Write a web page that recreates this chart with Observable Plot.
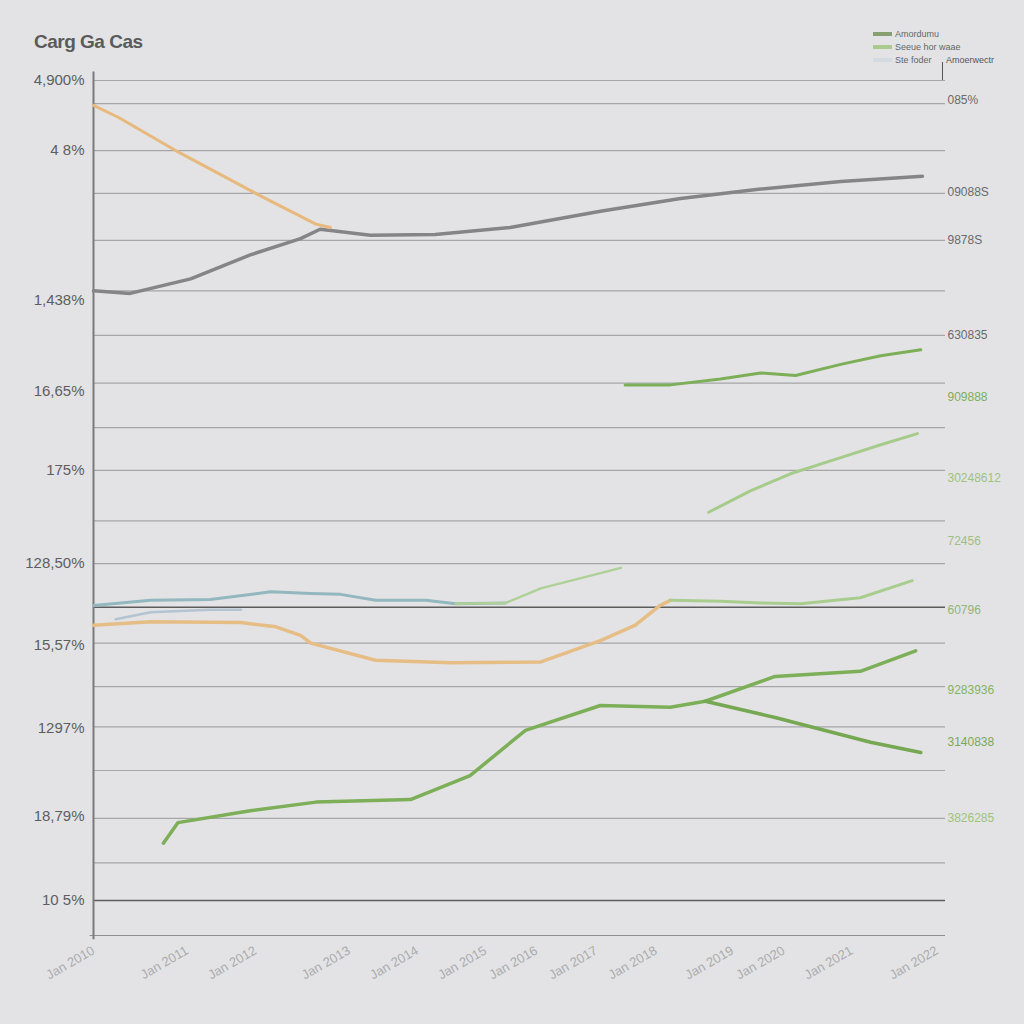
<!DOCTYPE html>
<html>
<head>
<meta charset="utf-8">
<script src="https://cdn.jsdelivr.net/npm/d3@7"></script>
<script src="https://cdn.jsdelivr.net/npm/@observablehq/plot@0.6"></script>
<style>
  html, body { margin: 0; padding: 0; background: #e3e3e5; }
  #wrap { width: 1024px; height: 1024px; overflow: hidden; background: #e3e3e5; font-family: "Liberation Sans", Arial, sans-serif; position: relative; }
  #header { position: relative; height: 70px; }
  #title { position: absolute; left: 34px; top: 31px; font-size: 19px; font-weight: bold; color: #5a5a5a; letter-spacing: -0.5px; }
  #legend { position: absolute; left: 873px; top: 27px; font-size: 9px; color: #666; }
  .li { display: flex; align-items: center; height: 13px; }
  .sw { width: 19px; height: 4px; margin-right: 3px; }
  #legend2 { position: absolute; left: 946px; top: 55px; font-size: 9px; color: #555; }
  #tick { position: absolute; left: 942px; top: 62px; width: 1px; height: 18px; background: #555; }
  svg { display: block; }
</style>
</head>
<body>
<div id="wrap">
  <div id="header">
    <div id="title">Carg Ga Cas</div>
    <div id="legend"></div>
    <div id="legend2">Amoerwectr</div>
    <div id="tick"></div>
  </div>
  <div id="chart"></div>
</div>
<script>
// ---- data ----
const greyX = [0, 4.3, 11.4, 18.4, 24.3, 26.6, 32.5, 40.1, 48.9, 59.5, 68.9, 78.3, 87.7, 97.3];
const greyY = [75.4, 75.1, 76.8, 79.6, 81.5, 82.6, 81.9, 82.0, 82.8, 84.7, 86.2, 87.3, 88.2, 88.8];

const orangeTopX = [0, 2.9, 10.2, 19.6, 26.1, 27.8];
const orangeTopY = [97.1, 95.7, 91.5, 86.5, 83.2, 82.8];

const tealX = [0, 6.7, 13.7, 20.8, 25.5, 29.0, 33.1, 39.0, 42.5, 48.4];
const tealY = [38.6, 39.2, 39.3, 40.2, 40.0, 39.9, 39.2, 39.2, 38.8, 38.9];

const tealFaintX = [2.6, 6.7, 13.7, 17.3];
const tealFaintY = [37.0, 37.8, 38.1, 38.1];

const lgMidX = [42.5, 48.4, 52.5, 61.9];
const lgMidY = [38.8, 38.9, 40.6, 43.0];

const orangeLowX = [0, 6.7, 17.3, 21.4, 24.3, 25.5, 33.1, 41.9, 52.5, 59.5, 63.6, 66.5, 67.7];
const orangeLowY = [36.3, 36.7, 36.6, 36.1, 35.1, 34.2, 32.2, 31.9, 32.0, 34.5, 36.3, 38.6, 39.2];

const lgRightX = [67.7, 73.6, 78.3, 83.0, 90.0, 96.1];
const lgRightY = [39.2, 39.1, 38.9, 38.8, 39.5, 41.5];

const greenUpX = [62.4, 67.7, 73.6, 78.3, 82.4, 87.7, 92.4, 97.1];
const greenUpY = [64.4, 64.4, 65.1, 65.8, 65.5, 66.8, 67.8, 68.5];

const lgUpX = [72.2, 77.1, 81.8, 87.7, 92.4, 96.7];
const lgUpY = [49.5, 52.0, 54.0, 55.9, 57.4, 58.7];

const greenLowX = [8.2, 9.9, 18.4, 26.1, 37.2, 44.2, 50.7, 59.5, 67.7, 71.8, 80.0, 90.0, 96.5];
const greenLowY = [10.8, 13.2, 14.6, 15.6, 15.9, 18.7, 24.0, 26.9, 26.7, 27.4, 30.3, 30.9, 33.3];

const greenBranchX = [71.8, 80.0, 91.2, 97.1];
const greenBranchY = [27.4, 25.5, 22.6, 21.4];

const gridValues = [100, 97.3, 91.8, 86.8, 81.3, 75.4, 70.2, 64.6, 59.4, 54.4, 48.5, 43.5, 34.2, 29.1, 24.4, 19.3, 13.7, 8.5];
const darkRuleValues = [38.4, 4.1];

const leftTickValues = [100, 91.8, 74.3, 63.7, 54.4, 43.5, 34.0, 24.3, 14.0, 4.1];
const leftTickLabels = ["4,900%", "4 8%", "1,438%", "16,65%", "175%", "128,50%", "15,57%", "1297%", "18,79%", "10 5%"];

const rightTickValues = [97.7, 86.9, 81.3, 70.2, 63.0, 53.5, 46.1, 38.0, 28.7, 22.6, 13.7];
const rightTickLabels = ["085%", "09088S", "9878S", "630835", "909888", "30248612", "72456", "60796", "9283936", "3140838", "3826285"];
const rightTickColors = ["#6a6a6a", "#6a6a6a", "#6a6a6a", "#6a6a6a", "#7fae58", "#9cc47c", "#9fbf86", "#8fb57a", "#86b45f", "#7aa855", "#9cc47c"];

const xTickValues = [0, 11, 19, 30, 38, 46, 52, 59, 66, 75, 81, 89, 99];
const xTickLabels = ["Jan 2010", "Jan 2011", "Jan 2012", "Jan 2013", "Jan 2014", "Jan 2015", "Jan 2016", "Jan 2017", "Jan 2018", "Jan 2019", "Jan 2020", "Jan 2021", "Jan 2022"];

const legendNames = ["Amordumu", "Seeue hor waae", "Ste foder"];
const legendColors = ["#86a072", "#a9cb8e", "#d3dae2"];

// ---- legend ----
const leg = document.getElementById("legend");
legendNames.forEach((n, i) => {
  const d = document.createElement("div");
  d.className = "li";
  d.innerHTML = `<span class="sw" style="background:${legendColors[i]}"></span><span>${n}</span>`;
  leg.appendChild(d);
});

// ---- build tables ----
const mk = (xs, ys) => xs.map((x, i) => ({x, y: ys[i]}));
const rightLabels = rightTickValues.map((v, i) => ({y: v, label: rightTickLabels[i], color: rightTickColors[i]}));

const lineOpts = (stroke, w) => ({x: "x", y: "y", stroke, strokeWidth: w, curve: "linear", strokeLinejoin: "round", strokeLinecap: "round"});

const chart = Plot.plot({
  width: 1024,
  height: 954,
  marginTop: 10,
  marginBottom: 89,
  marginLeft: 93,
  marginRight: 79,
  style: {background: "transparent", fontFamily: "Liberation Sans, Arial, sans-serif"},
  x: {domain: [0, 100], axis: null},
  y: {domain: [0, 100], axis: null},
  marks: [
    Plot.ruleY(gridValues, {stroke: "#a6a6a8", strokeWidth: 1.2}),
    Plot.ruleY(darkRuleValues, {stroke: "#5c5c5c", strokeWidth: 1.6}),
    Plot.ruleY([0], {x1: -0.4, x2: 100, stroke: "#8e8e90", strokeWidth: 1.2}),
    Plot.ruleX([0], {y1: -0.5, y2: 101, stroke: "#7a7a7a", strokeWidth: 2}),
    Plot.axisY({ticks: leftTickValues, tickFormat: (d, i) => leftTickLabels[i], tickSize: 0, tickPadding: 9, fontSize: 15, color: "#5e5e5e", anchor: "left", label: null}),
    Plot.axisX({ticks: xTickValues, tickFormat: (d, i) => xTickLabels[i], tickSize: 0, tickPadding: 14, fontSize: 13, color: "#ababad", tickRotate: -30, anchor: "bottom", label: null}),
    Plot.text(rightLabels, {y: "y", text: "label", fill: "color", frameAnchor: "right", textAnchor: "start", dx: 2, fontSize: 12}),
    Plot.line(mk(tealFaintX, tealFaintY), lineOpts("#b4c3d2", 2.5)),
    Plot.line(mk(tealX, tealY), lineOpts("#93b7bf", 3)),
    Plot.line(mk(lgMidX, lgMidY), lineOpts("#afd096", 2.5)),
    Plot.line(mk(orangeLowX, orangeLowY), lineOpts("#e6bd84", 3.5)),
    Plot.line(mk(lgRightX, lgRightY), lineOpts("#a9cd8e", 3)),
    Plot.line(mk(greyX, greyY), lineOpts("#858587", 3.5)),
    Plot.line(mk(orangeTopX, orangeTopY), lineOpts("#e7b97c", 3)),
    Plot.line(mk(greenUpX, greenUpY), lineOpts("#7dae58", 3)),
    Plot.line(mk(lgUpX, lgUpY), lineOpts("#a6cb8a", 3)),
    Plot.line(mk(greenLowX, greenLowY), lineOpts("#7caf57", 3.5)),
    Plot.line(mk(greenBranchX, greenBranchY), lineOpts("#76a752", 3.5))
  ]
});
document.getElementById("chart").appendChild(chart);
</script>
</body>
</html>
